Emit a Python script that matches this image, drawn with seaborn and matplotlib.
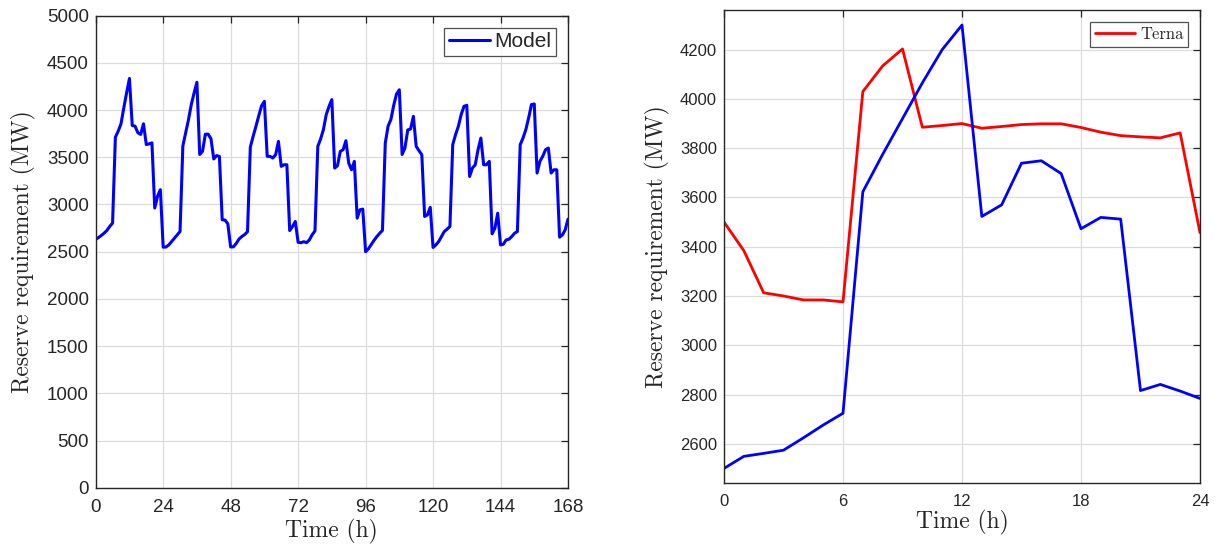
import numpy as np
import pandas as pd
import matplotlib
matplotlib.use("Agg")
import matplotlib.pyplot as plt
import seaborn as sns

# hourly reserve requirement from the model, one week (h 0..168)
model_week = [
    2630, 2650, 2672, 2697, 2726, 2768, 2803, 3713, 3777, 3855, 4025, 4184,
    4335, 3837, 3830, 3760, 3742, 3855, 3635, 3642, 3653, 2963, 3087, 3157,
    2548, 2550, 2572, 2608, 2643, 2678, 2714, 3620, 3757, 3899, 4058, 4182,
    4295, 3530, 3563, 3745, 3745, 3697, 3482, 3518, 3510, 2838, 2835, 2795,
    2550, 2552, 2588, 2635, 2661, 2682, 2712, 3608, 3722, 3828, 3940, 4045,
    4093, 3510, 3510, 3492, 3527, 3669, 3404, 3421, 3421, 2724, 2767, 2820,
    2600, 2595, 2606, 2596, 2625, 2680, 2720, 3616, 3694, 3793, 3952, 4040,
    4111, 3386, 3411, 3563, 3580, 3676, 3439, 3368, 3457, 2855, 2944, 2951,
    2500, 2530, 2575, 2620, 2660, 2695, 2725, 3650, 3830, 3900, 4050, 4170,
    4215, 3530, 3600, 3790, 3800, 3934, 3616, 3570, 3527, 2873, 2890, 2970,
    2545, 2572, 2608, 2661, 2714, 2739, 2767, 3634, 3740, 3828, 3952, 4040,
    4051, 3297, 3386, 3421, 3580, 3704, 3421, 3421, 3457, 2689, 2749, 2908,
    2572, 2579, 2625, 2632, 2661, 2696, 2714, 3634, 3704, 3793, 3917, 4058,
    4065, 3333, 3457, 3510, 3580, 3598, 3333, 3368, 3368, 2654, 2678, 2731,
    2845,
]
week_hours = list(range(len(model_week)))

# one day, model vs Terna (h 0..24)
day_hours = list(range(25))
model_day = [
    2500, 2549, 2561, 2574, 2624, 2676, 2724, 3623, 3775, 3920, 4065, 4200,
    4300, 3523, 3570, 3739, 3749, 3697, 3473, 3519, 3512, 2816, 2841, 2814,
    2784,
]
terna_day = [
    3500, 3384, 3213, 3200, 3184, 3184, 3176, 4030, 4134, 4203, 3885, 3892,
    3900, 3881, 3888, 3896, 3899, 3899, 3884, 3865, 3851, 3846, 3842, 3862,
    3457,
]

week_df = pd.DataFrame({"hour": week_hours, "reserve": model_week})
day_df = pd.DataFrame({"hour": day_hours, "model": model_day, "terna": terna_day})

sns.set_style("white")
plt.rcParams["font.family"] = ["Liberation Sans", "DejaVu Sans"]
serif = ["cmr10", "DejaVu Serif"]

fig = plt.figure(figsize=(12.17, 5.46), dpi=100)
ax1 = fig.add_axes([95.7 / 1217, 1 - 487.7 / 546, 472.3 / 1217, 472 / 546])
ax2 = fig.add_axes([724 / 1217, 1 - 482.7 / 546, 476 / 1217, 472.7 / 546])


def matlab_axes(ax, size):
    ax.grid(True, color="#dcdcdc", linewidth=0.9)
    ax.set_axisbelow(True)
    for s in ax.spines.values():
        s.set_color("#262626")
        s.set_linewidth(1.0)
    ax.tick_params(direction="in", top=True, right=True, length=5,
                   width=0.9, color="#262626", labelsize=size,
                   labelcolor="#262626", pad=5)


sns.lineplot(data=week_df, x="hour", y="reserve", ax=ax1, color="blue",
             linewidth=2.2, label="Model")
ax1.set_xlim(0, 168)
ax1.set_ylim(0, 5000)
ax1.set_xticks(range(0, 169, 24))
ax1.set_yticks(range(0, 5001, 500))
matlab_axes(ax1, 13.5)
ax1.tick_params(axis="x", pad=8)
ax1.set_xlabel("Time (h)", fontsize=17, family=serif, labelpad=2)
ax1.set_ylabel("Reserve requirement (MW)", fontsize=17, family=serif, labelpad=8)
leg1 = ax1.legend(loc="upper right", fontsize=15, frameon=True, fancybox=False,
                  edgecolor="#262626", handlelength=2.0, handletextpad=0.2,
                  borderpad=0.2, borderaxespad=0.6)
leg1.get_frame().set_linewidth(0.9)

sns.lineplot(data=day_df, x="hour", y="terna", ax=ax2, color="red",
             linewidth=2.0, label="Terna")
sns.lineplot(data=day_df, x="hour", y="model", ax=ax2, color="blue",
             linewidth=2.0)
ax2.set_xlim(0, 24)
ax2.set_ylim(2442, 4361)
ax2.set_xticks(range(0, 25, 6))
ax2.set_yticks(range(2600, 4201, 200))
matlab_axes(ax2, 12)
ax2.tick_params(axis="x", pad=8)
ax2.set_xlabel("Time (h)", fontsize=17, family=serif, labelpad=1)
ax2.set_ylabel("Reserve requirement (MW)", fontsize=17, family=serif, labelpad=7)
leg2 = ax2.legend(loc="upper right", prop={"family": serif, "size": 12},
                  frameon=True, fancybox=False, edgecolor="#262626",
                  handlelength=2.4, handletextpad=0.3, borderpad=0.3,
                  borderaxespad=0.7)
leg2.get_frame().set_linewidth(0.9)

fig.savefig("out.png", dpi=100)
